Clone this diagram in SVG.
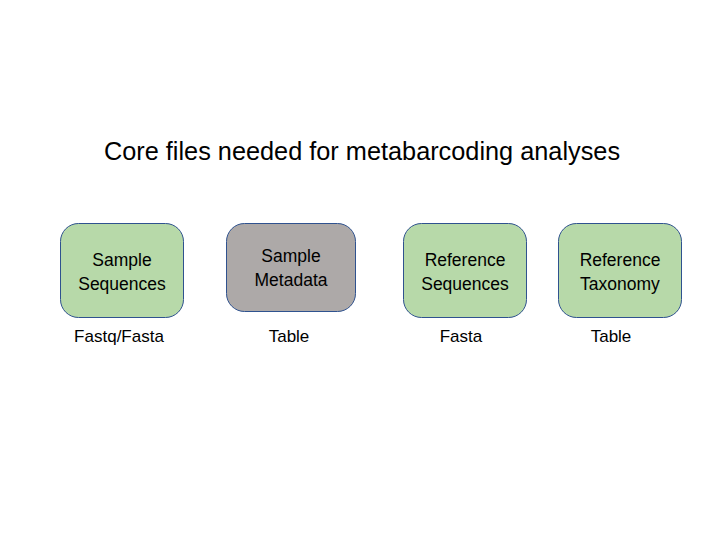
<svg xmlns="http://www.w3.org/2000/svg" width="720" height="540" viewBox="0 0 720 540">
<style>
text{font-family:"Liberation Sans",Arial,sans-serif;fill:#000;text-anchor:middle}
.t{font-size:25.3px}
.n{font-size:17.5px}
.l{font-size:17px}
.box{stroke:#2F528F;stroke-width:1}
.g{fill:#B7D9A9}
.gr{fill:#ADA9A8}
</style>
<rect width="720" height="540" fill="#fff"/>
<text class="t" x="362" y="160">Core files needed for metabarcoding analyses</text>
<g id="sample-sequences">
<rect class="box g" x="60.5" y="223.5" width="123" height="94" rx="18"/>
<text class="n" x="122" y="266">Sample</text>
<text class="n" x="122" y="290">Sequences</text>
</g>
<g id="sample-metadata">
<rect class="box gr" x="226.5" y="223.5" width="129" height="88" rx="18"/>
<text class="n" x="291" y="262">Sample</text>
<text class="n" x="291" y="286">Metadata</text>
</g>
<g id="reference-sequences">
<rect class="box g" x="403.5" y="223.5" width="123" height="94" rx="18"/>
<text class="n" x="465" y="266">Reference</text>
<text class="n" x="465" y="290">Sequences</text>
</g>
<g id="reference-taxonomy">
<rect class="box g" x="558.5" y="223.5" width="123" height="94" rx="18"/>
<text class="n" x="620" y="266">Reference</text>
<text class="n" x="620" y="290">Taxonomy</text>
</g>
<g id="labels">
<text class="l" x="119" y="342">Fastq/Fasta</text>
<text class="l" x="289" y="342">Table</text>
<text class="l" x="461" y="342">Fasta</text>
<text class="l" x="611" y="342">Table</text>
</g>
<g id="connectors"/>
</svg>
